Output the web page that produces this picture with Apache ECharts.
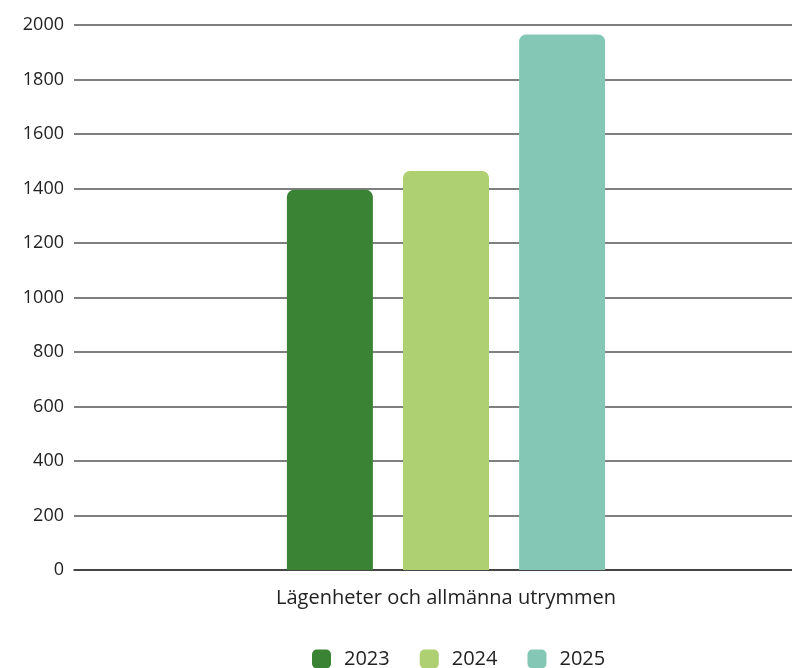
<!DOCTYPE html>
<html>
<head>
<meta charset="utf-8">
<script src="https://cdn.jsdelivr.net/npm/echarts@6/dist/echarts.min.js"></script>
<style>
  html, body { margin: 0; padding: 0; background: #ffffff; }
  #chart { width: 792px; height: 668px; }
</style>
</head>
<body>
<div id="chart"></div>
<script>
// Category shown on the x axis
const categories = ['Lägenheter och allmänna utrymmen'];
// One series per year
const seriesNames = ['2023', '2024', '2025'];
const values2023 = [1395];
const values2024 = [1464];
const values2025 = [1965];
const seriesColors = ['#3a8335', '#aecf72', '#83c7b4'];
// Y axis range
const yMin = 0;
const yMax = 2000;
const yStep = 200;

const seriesValues = [values2023, values2024, values2025];
const fontFamily = '"Open Sans", "Noto Sans", sans-serif';

const chart = echarts.init(document.getElementById('chart'), null, { renderer: 'canvas' });
chart.setOption({
  animation: false,
  backgroundColor: '#ffffff',
  // plot area runs past the right edge of the canvas
  grid: { left: 74, right: -26, top: 25, bottom: 98, containLabel: false, outerBoundsMode: 'none' },
  legend: {
    data: seriesNames,
    top: 644,
    left: 307,
    itemWidth: 19,
    itemHeight: 19,
    itemGap: 30,
    icon: 'roundRect',
    textStyle: { fontFamily, fontSize: 20, color: '#222', padding: [0, 0, 0, 8] }
  },
  xAxis: {
    type: 'category',
    data: categories,
    axisLine: { lineStyle: { color: '#333', width: 1.5 } },
    axisTick: { show: false },
    axisLabel: { fontFamily, fontSize: 20, color: '#222', margin: 18 }
  },
  yAxis: {
    type: 'value',
    min: yMin,
    max: yMax,
    interval: yStep,
    axisLine: { show: false },
    axisTick: { show: false },
    splitLine: { lineStyle: { color: '#555', width: 1.5 } },
    axisLabel: {
      fontFamily, fontSize: 18, color: '#222', margin: 10,
      formatter: (v) => String(v)
    }
  },
  series: seriesNames.map((name, i) => ({
    name,
    type: 'bar',
    data: seriesValues[i],
    barWidth: 86,
    barGap: '35%',
    itemStyle: { color: seriesColors[i], borderRadius: [7, 7, 0, 0] }
  }))
});
</script>
</body>
</html>
